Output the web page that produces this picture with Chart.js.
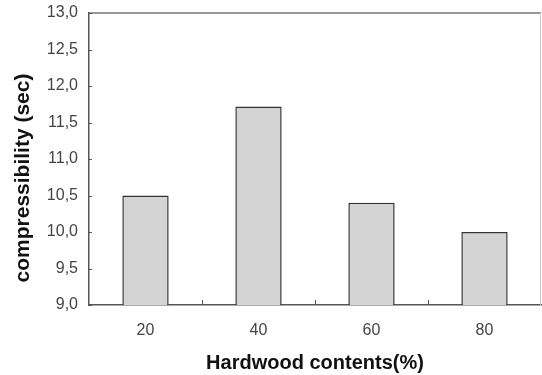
<!DOCTYPE html>
<html>
<head>
<meta charset="utf-8">
<script src="https://cdn.jsdelivr.net/npm/chart.js@4"></script>
<style>
  html, body { margin: 0; padding: 0; background: #fff; }
  #wrap { width: 542px; height: 375px; }
</style>
</head>
<body>
<div id="wrap"><canvas id="c" width="542" height="375"></canvas></div>
<script>
// Hardwood content (%) categories and measured compressibility (sec)
const categories = ['20', '40', '60', '80'];
const compressibility = [10.5, 11.72, 10.4, 10.0];
const yTickMin = 9.0;
const yTickMax = 13.0;
const yTickStep = 0.5;
const xTitle = 'Hardwood contents(%)';
const yTitle = 'compressibility (sec)';

const FONT = '"Liberation Sans", Arial, sans-serif';

// Frame (top/right), inward tick marks and the rotated y title
const framePlugin = {
  id: 'frame',
  afterDraw(chart) {
    const ctx = chart.ctx;
    const a = chart.chartArea;
    const xs = chart.scales.x, ys = chart.scales.y;
    ctx.save();
    // top edge
    ctx.strokeStyle = '#777';
    ctx.lineWidth = 1.5;
    ctx.beginPath();
    ctx.moveTo(a.left, a.top);
    ctx.lineTo(a.right, a.top);
    ctx.stroke();
    // right edge (faint)
    ctx.strokeStyle = '#ccc';
    ctx.lineWidth = 1;
    ctx.beginPath();
    ctx.moveTo(a.right - 0.5, a.top);
    ctx.lineTo(a.right - 0.5, a.bottom);
    ctx.stroke();
    // y tick marks pointing inward
    ctx.strokeStyle = '#555';
    ctx.lineWidth = 1;
    ys.ticks.forEach((t) => {
      const y = Math.round(ys.getPixelForValue(t.value)) + 0.5;
      ctx.beginPath();
      ctx.moveTo(a.left, y);
      ctx.lineTo(a.left + 3, y);
      ctx.stroke();
    });
    // x tick marks between categories, pointing inward
    for (let i = 0; i < categories.length - 1; i++) {
      const x = Math.round((xs.getPixelForTick(i) + xs.getPixelForTick(i + 1)) / 2) + 0.5;
      ctx.beginPath();
      ctx.moveTo(x, a.bottom);
      ctx.lineTo(x, a.bottom - 5);
      ctx.stroke();
    }
    // y axis title
    ctx.fillStyle = '#111';
    ctx.font = 'bold 21px ' + FONT;
    ctx.textAlign = 'center';
    ctx.textBaseline = 'middle';
    ctx.translate(23, 178);
    ctx.rotate(-Math.PI / 2);
    ctx.fillText(yTitle, 0, 0);
    ctx.restore();
  }
};

new Chart(document.getElementById('c'), {
  type: 'bar',
  data: {
    labels: categories,
    datasets: [{
      data: compressibility,
      backgroundColor: '#d4d4d4',
      borderColor: '#333',
      borderWidth: 1.5,
      barPercentage: 0.41,
      categoryPercentage: 1.0
    }]
  },
  options: {
    responsive: false,
    animation: false,
    devicePixelRatio: 1,
    layout: { padding: { top: 13, right: 1, left: 0, bottom: 0 } },
    plugins: {
      legend: { display: false },
      tooltip: { enabled: false }
    },
    scales: {
      x: {
        grid: { display: false, drawTicks: false },
        border: { display: true, color: '#555', width: 1.5 },
        ticks: {
          color: '#444',
          font: { family: FONT, size: 16 },
          padding: 16
        },
        title: {
          display: true,
          text: xTitle,
          color: '#111',
          font: { family: FONT, size: 20, weight: 'bold' },
          padding: { top: 0, bottom: 0 }
        },
        afterFit(scale) {
          scale.height = 70;
          scale.paddingLeft = 0;
          scale.paddingRight = 0;
        }
      },
      y: {
        min: yTickMin,
        max: yTickMax,
        grid: { display: false, drawTicks: false },
        border: { display: true, color: '#555', width: 1.5 },
        ticks: {
          stepSize: yTickStep,
          color: '#444',
          font: { family: FONT, size: 16 },
          padding: 11,
          callback: (v) => Number(v).toFixed(1).replace('.', ',')
        },
        afterFit(scale) {
          scale.width = 89;
          scale.paddingTop = 0;
          scale.paddingBottom = 0;
        }
      }
    }
  },
  plugins: [framePlugin]
});
</script>
</body>
</html>
